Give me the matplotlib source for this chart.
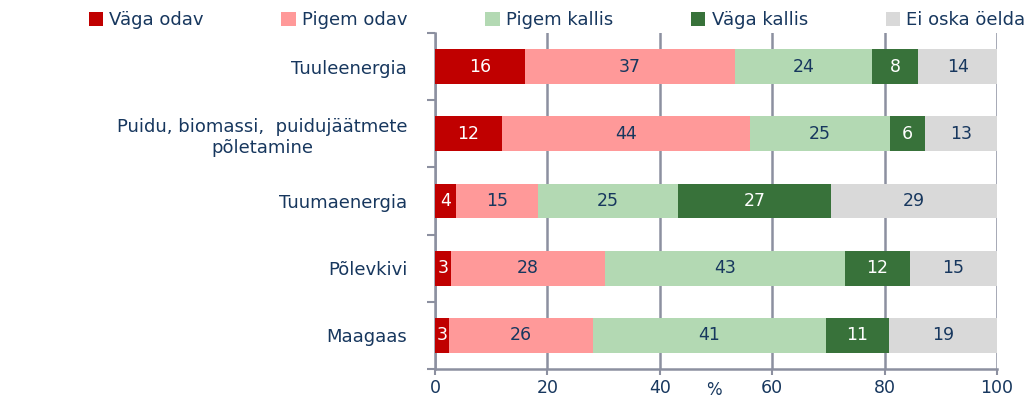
import matplotlib
matplotlib.use("Agg")
import matplotlib.pyplot as plt
from matplotlib.patches import Patch

categories = ["Tuuleenergia", "Puidu, biomassi,  puidujäätmete\npõletamine",
              "Tuumaenergia", "Põlevkivi", "Maagaas"]
series_names = ["Väga odav", "Pigem odav", "Pigem kallis", "Väga kallis", "Ei oska öelda"]

vaga_odav = [16.0, 11.9, 3.7, 2.8, 2.5]
pigem_odav = [37.4, 44.1, 14.6, 27.4, 25.6]
pigem_kallis = [24.4, 25.0, 25.0, 42.8, 41.5]
vaga_kallis = [8.2, 6.2, 27.2, 11.5, 11.2]
ei_oska = [14.0, 12.8, 29.5, 15.5, 19.2]

lbl_vaga_odav = [16, 12, 4, 3, 3]
lbl_pigem_odav = [37, 44, 15, 28, 26]
lbl_pigem_kallis = [24, 25, 25, 43, 41]
lbl_vaga_kallis = [8, 6, 27, 12, 11]
lbl_ei_oska = [14, 13, 29, 15, 19]

xticks = [0, 20, 40, 60, 80, 100]

values = [vaga_odav, pigem_odav, pigem_kallis, vaga_kallis, ei_oska]
labels = [lbl_vaga_odav, lbl_pigem_odav, lbl_pigem_kallis, lbl_vaga_kallis, lbl_ei_oska]
colors = ["#C00000", "#FF9999", "#B3D9B3", "#38723A", "#D9D9D9"]
text_colors = ["white", "#17375E", "#17375E", "white", "#17375E"]
navy = "#17375E"
grid_c = "#8C90A0"

plt.rcParams['font.family'] = ['DejaVu Sans']

fig = plt.figure(figsize=(10.34, 4.0), dpi=100)
ax = fig.add_axes([435/1034, 31/400, (997-435)/1034, (369-33)/400])

ypos = list(range(len(categories)))
left = [0.0]*len(categories)
for vals, lbls, col, tc in zip(values, labels, colors, text_colors):
    bars = ax.barh(ypos, vals, left=left, height=0.52, color=col, edgecolor='none', zorder=3)
    for b, l in zip(bars, lbls):
        cx = b.get_x() + b.get_width()/2
        ax.text(cx, b.get_y() + b.get_height()/2, str(l), ha='center', va='center',
                color=tc, fontsize=12.5, zorder=4)
    left = [a + v for a, v in zip(left, vals)]

ax.set_xlim(0, 100)
ax.set_ylim(len(categories) - 0.5, -0.5)
ax.set_xticks(xticks)
ax.set_xticklabels([str(t) for t in xticks], color=navy, fontsize=12.5)
ax.set_yticks(ypos)
ax.set_yticklabels(categories, color=navy, fontsize=13, ha='right', multialignment='center')
ax.tick_params(axis='y', length=0, pad=20)
ax.set_yticks([k - 0.5 for k in range(len(categories) + 1)], minor=True)
ax.tick_params(axis='y', which='minor', length=6, width=1.5, color=grid_c)
ax.tick_params(axis='x', length=4, width=1.5, color=grid_c, pad=3)
ax.grid(axis='x', color=grid_c, linewidth=1.8, zorder=0)
ax.set_axisbelow(True)
for s in ['top', 'right']:
    ax.spines[s].set_visible(False)
for s in ['left', 'bottom']:
    ax.spines[s].set_color(grid_c)
    ax.spines[s].set_linewidth(1.8)

ax.set_xlabel('%', color=navy, fontsize=12, va='center')
ax.xaxis.set_label_coords(0.497, -0.062)

handles = [Patch(facecolor=c, edgecolor='none') for c in colors]
fig.legend(handles, series_names, loc='center', bbox_to_anchor=(557/1034, 1 - 20/400),
           ncol=5, frameon=False, fontsize=13, labelcolor=navy,
           handlelength=0.8, handleheight=0.8, handletextpad=0.35, columnspacing=4.3)

fig.savefig("out.png", dpi=100)
